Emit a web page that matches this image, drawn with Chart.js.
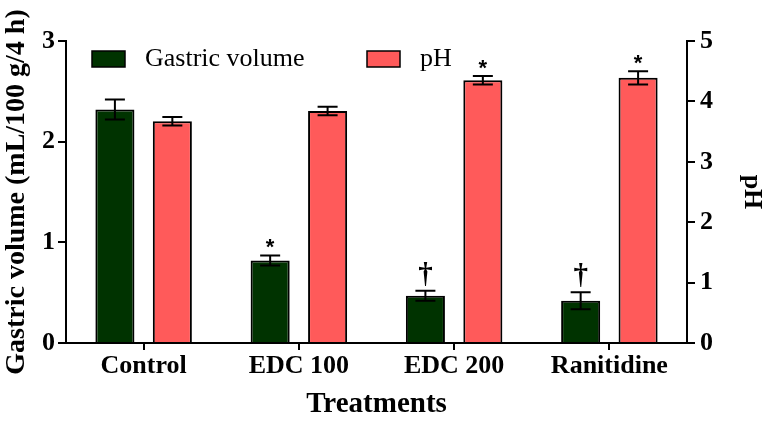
<!DOCTYPE html>
<html>
<head>
<meta charset="utf-8">
<script src="https://cdn.jsdelivr.net/npm/chart.js@4.4.1/dist/chart.umd.min.js"></script>
<style>
  html, body { margin: 0; padding: 0; background: #fff; }
  #wrap { width: 767px; height: 422px; }
</style>
</head>
<body>
<div id="wrap"><canvas id="chart"></canvas></div>
<script>
// data
const categories = ['Control', 'EDC 100', 'EDC 200', 'Ranitidine'];
const volume = [2.32, 0.82, 0.47, 0.42];
const volumeErr = [0.10, 0.05, 0.05, 0.085];
const ph = [3.67, 3.84, 4.35, 4.39];
const phErr = [0.07, 0.07, 0.07, 0.11];
const volumeMarks = ['', '*', '\u2020', '\u2020'];
const phMarks = ['', '', '*', '*'];

const serif = '"Liberation Serif", "Times New Roman", serif';

// error bars + significance marks
const errorBars = {
    id: 'errorBars',
    afterDatasetsDraw(chart) {
        const ctx = chart.ctx;
        const sets = [
            { meta: chart.getDatasetMeta(0), vals: volume, err: volumeErr, marks: volumeMarks, scale: chart.scales.y },
            { meta: chart.getDatasetMeta(1), vals: ph, err: phErr, marks: phMarks, scale: chart.scales.y1 }
        ];
        ctx.save();
        ctx.strokeStyle = '#000';
        ctx.lineWidth = 2;
        ctx.fillStyle = '#000';
        sets.forEach(s => {
            s.meta.data.forEach((bar, i) => {
                const x = bar.x;
                const top = s.scale.getPixelForValue(s.vals[i] + s.err[i]);
                const bot = s.scale.getPixelForValue(s.vals[i] - s.err[i]);
                ctx.beginPath();
                ctx.moveTo(x, top); ctx.lineTo(x, bot);
                ctx.moveTo(x - 10, top); ctx.lineTo(x + 10, top);
                ctx.moveTo(x - 10, bot); ctx.lineTo(x + 10, bot);
                ctx.stroke();
                const m = s.marks[i];
                ctx.textAlign = 'center';
                ctx.textBaseline = 'alphabetic';
                if (m === '*') {
                    ctx.font = 'bold 22px "Liberation Sans", Arial, sans-serif';
                    ctx.fillText(m, x, top - 1);
                } else if (m) {
                    ctx.font = 'bold 29px ' + serif;
                    ctx.fillText(m, x, top - 8);
                }
            });
        });
        ctx.restore();
    }
};

// legend drawn inside the plot area
const innerLegend = {
    id: 'innerLegend',
    afterDraw(chart) {
        const ctx = chart.ctx;
        const area = chart.chartArea;
        const items = [
            { label: 'Gastric volume', color: chart.data.datasets[0].backgroundColor, x: area.left + 26 },
            { label: 'pH', color: chart.data.datasets[1].backgroundColor, x: area.left + 301 }
        ];
        ctx.save();
        ctx.font = '26px ' + serif;
        ctx.textBaseline = 'middle';
        ctx.textAlign = 'left';
        items.forEach(it => {
            const y = area.top + 10;
            ctx.fillStyle = it.color;
            ctx.fillRect(it.x, y, 33, 16);
            ctx.strokeStyle = '#000';
            ctx.lineWidth = 1.5;
            ctx.strokeRect(it.x, y, 33, 16);
            ctx.fillStyle = '#000';
            ctx.fillText(it.label, it.x + 53, y + 8);
        });
        ctx.restore();
    }
};

new Chart(document.getElementById('chart'), {
    type: 'bar',
    data: {
        labels: categories,
        datasets: [
            {
                label: 'Gastric volume',
                data: volume,
                yAxisID: 'y',
                backgroundColor: '#003300',
                borderColor: '#000',
                borderWidth: 2,
                categoryPercentage: 0.74,
                barPercentage: 0.68
            },
            {
                label: 'pH',
                data: ph,
                yAxisID: 'y1',
                backgroundColor: '#FF5A5A',
                borderColor: '#000',
                borderWidth: 2,
                categoryPercentage: 0.74,
                barPercentage: 0.68
            }
        ]
    },
    options: {
        responsive: true,
        maintainAspectRatio: false,
        animation: false,
        layout: { padding: { top: 41, left: 0, right: 0, bottom: 0 } },
        plugins: {
            legend: { display: false },
            tooltip: { enabled: false }
        },
        scales: {
            x: {
                grid: { display: true, drawOnChartArea: false, offset: false, tickLength: 7, color: '#000', lineWidth: 2 },
                border: { color: '#000', width: 2 },
                ticks: { color: '#000', font: { family: serif, size: 26, weight: 'bold' }, padding: 1 },
                title: { display: true, text: 'Treatments', color: '#000', font: { family: serif, size: 29, weight: 'bold' }, padding: { top: 0, bottom: 0 } },
                afterFit(scale) { scale.height = 79; }
            },
            y: {
                position: 'left',
                min: 0, max: 3,
                ticks: { stepSize: 1, color: '#000', font: { family: serif, size: 26, weight: 'bold' }, padding: 3 },
                grid: { drawOnChartArea: false, tickLength: 8, color: '#000', lineWidth: 2 },
                border: { color: '#000', width: 2 },
                title: { display: true, text: 'Gastric volume (mL/100 g/4 h)', color: '#000', font: { family: serif, size: 28, weight: 'bold' }, padding: { top: 0, bottom: 0 } },
                afterFit(scale) { scale.width = 66; }
            },
            y1: {
                position: 'right',
                min: 0, max: 5,
                ticks: { stepSize: 1, color: '#000', font: { family: serif, size: 26, weight: 'bold' }, padding: 5 },
                grid: { drawOnChartArea: false, tickLength: 8, color: '#000', lineWidth: 2 },
                border: { color: '#000', width: 2 },
                title: { display: true, text: 'pH', color: '#000', font: { family: serif, size: 26, weight: 'bold' }, padding: { top: 0, bottom: 0 } },
                afterFit(scale) { scale.width = 80; }
            }
        }
    },
    plugins: [errorBars, innerLegend]
});
</script>
</body>
</html>
